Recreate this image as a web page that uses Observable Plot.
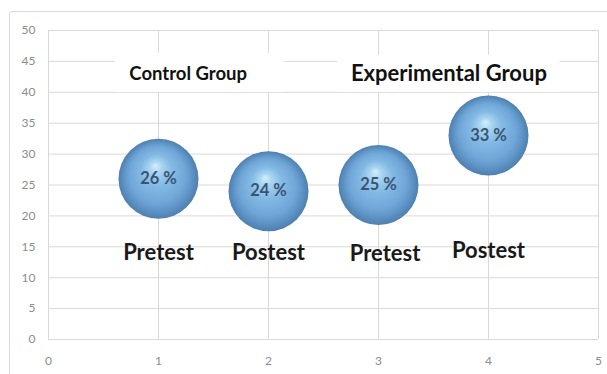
<!DOCTYPE html>
<html>
<head>
<meta charset="utf-8">
<script src="https://cdn.jsdelivr.net/npm/d3@7"></script>
<script src="https://cdn.jsdelivr.net/npm/@observablehq/plot@0.6"></script>
<style>
  html, body { margin: 0; padding: 0; background: #fff; }
  #wrap { position: relative; width: 607px; height: 374px; overflow: hidden; }
  #frame { position: absolute; left: 9px; top: 11px; width: 620px; height: 400px;
           border: 1px solid #d9d9d9; border-radius: 3px; box-sizing: border-box; }
  #chart { position: absolute; left: 0; top: 0; }
</style>
</head>
<body>
<div id="wrap"><div id="frame"></div><div id="chart"></div></div>
<script>
// Test phases and their scores (%)
const position = [1, 2, 3, 4];
const scores = [26, 24, 25, 33];
const phases = ["Pretest", "Postest", "Pretest", "Postest"];
const phaseX = [1, 2, 3.06, 4];
const phaseY = [14, 14, 13.8, 14.3];

// Group headings and their white backing panels
const groups = ["Control Group", "Experimental Group"];
const groupX = [1.27, 3.64];
const groupY = [42.9, 43];
const groupSize = [18.5, 22];
const panelX1 = [0.61, 2.63];
const panelX2 = [2.15, 4.65];
const panelY1 = [40, 40];
const panelY2 = [46.3, 46];

const xTicks = [0, 1, 2, 3, 4, 5];
const yTicks = [0, 5, 10, 15, 20, 25, 30, 35, 40, 45, 50];

const bubbles = position.map((x, i) => ({x, y: scores[i], label: `${scores[i]} %`}));
const phaseLabels = phases.map((t, i) => ({x: phaseX[i], y: phaseY[i], t}));
const panels = groups.map((t, i) => ({x1: panelX1[i], x2: panelX2[i], y1: panelY1[i], y2: panelY2[i]}));

const font = "Lato, 'Open Sans', sans-serif";

// Shaded sphere gradient used as the bubble fill
function sphereDefs() {
  const ns = "http://www.w3.org/2000/svg";
  const defs = document.createElementNS(ns, "defs");
  const g = document.createElementNS(ns, "radialGradient");
  g.setAttribute("id", "sphere");
  g.setAttribute("cx", "50%"); g.setAttribute("cy", "50%"); g.setAttribute("r", "50%");
  g.setAttribute("fx", "46%"); g.setAttribute("fy", "33%");
  [["0%", "#d4effc"], ["15%", "#a9d5f1"], ["40%", "#82b9e4"], ["70%", "#70a7d8"], ["88%", "#5b90c3"], ["100%", "#4e7fae"]]
    .forEach(([o, c]) => {
      const s = document.createElementNS(ns, "stop");
      s.setAttribute("offset", o); s.setAttribute("stop-color", c);
      g.appendChild(s);
    });
  defs.appendChild(g);
  return defs;
}

const chart = Plot.plot({
  width: 607,
  height: 374,
  marginLeft: 48,
  marginRight: 9,
  marginTop: 30,
  marginBottom: 35,
  style: {fontFamily: font, background: "transparent", overflow: "visible"},
  x: {domain: [0, 5], label: null},
  y: {domain: [0, 50], label: null},
  marks: [
    sphereDefs,
    Plot.gridX(xTicks, {stroke: "#d9d9d9", strokeOpacity: 1}),
    Plot.gridY(yTicks, {stroke: "#d9d9d9", strokeOpacity: 1}),
    Plot.axisX({ticks: xTicks, tickFormat: "d", tickSize: 0, tickPadding: 17, fill: "#8c8c8c", fontSize: 12, label: null}),
    Plot.axisY({ticks: yTicks, tickFormat: "d", tickSize: 0, tickPadding: 13, fill: "#8c8c8c", fontSize: 12, label: null}),
    Plot.rect(panels, {x1: "x1", x2: "x2", y1: "y1", y2: "y2", fill: "white"}),
    ...groups.map((t, i) => Plot.text([t], {x: [groupX[i]], y: [groupY[i]], text: (d) => d, fontSize: groupSize[i], fontWeight: "bold", fill: "#111"})),
    Plot.dot(bubbles, {x: "x", y: "y", r: 40, fill: "url(#sphere)"}),
    Plot.text(bubbles, {x: "x", y: "y", text: "label", fontSize: 16.5, fontWeight: "bold", fill: "#3a5572"}),
    Plot.text(phaseLabels, {x: "x", y: "y", text: "t", fontSize: 22, fontWeight: "bold", fill: "#1a1a1a"})
  ]
});
document.getElementById("chart").appendChild(chart);
</script>
</body>
</html>
